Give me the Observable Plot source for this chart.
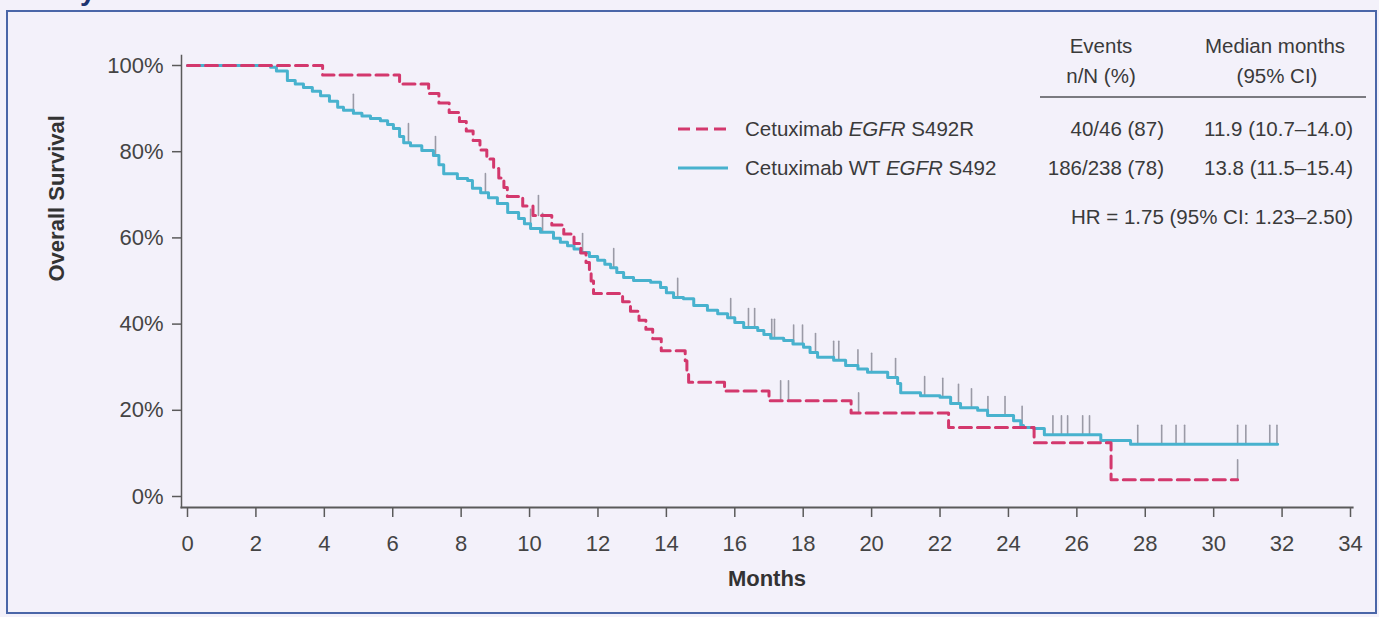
<!DOCTYPE html>
<html><head><meta charset="utf-8">
<script src="https://cdn.jsdelivr.net/npm/d3@7"></script>
<script src="https://cdn.jsdelivr.net/npm/@observablehq/plot@0.6"></script>
<style>
html,body{margin:0;padding:0;background:#f3f1fa;}
body{width:1379px;height:617px;overflow:hidden;position:relative;font-family:"Liberation Sans",Arial,sans-serif;color:#3a3a3a;}
#chart{position:absolute;left:0;top:0;}
#frame{position:absolute;left:6px;top:10px;width:1371px;height:604px;border:2px solid #4a66a8;box-sizing:border-box;pointer-events:none;}
#title{position:absolute;left:80px;top:-23px;font-size:28px;font-weight:bold;color:#1f3570;line-height:1;}
.t{position:absolute;font-size:20.5px;line-height:1;white-space:nowrap;}
.c{transform:translateX(-50%);}
.r{transform:translateX(-100%);}
</style></head><body>
<div id="title">y</div>
<div id="chart"></div>
<div id="legend"></div>
<div id="frame"></div>
<script>
// ---- data ----
const seriesNames = ["Cetuximab EGFR S492R", "Cetuximab WT EGFR S492"];
const xTicks = [0,2,4,6,8,10,12,14,16,18,20,22,24,26,28,30,32,34];
const yTicks = [0,20,40,60,80,100];

// Kaplan-Meier steps [month, survival %]
const mutSteps = [[0,100],[3.95,97.8],[6.2,95.7],[7.05,93.5],[7.35,91.3],[7.65,89.1],[7.95,87.0],[8.15,84.8],[8.35,82.6],[8.55,80.4],[8.75,78.3],[8.95,76.1],[9.1,73.9],[9.25,71.7],[9.35,69.6],[9.8,67.4],[10.1,65.2],[10.65,63.0],[11.0,60.9],[11.3,58.7],[11.5,56.5],[11.65,54.3],[11.75,52.2],[11.8,50.0],[11.87,47.1],[12.72,45.2],[12.95,43.0],[13.2,40.9],[13.4,38.8],[13.6,36.6],[13.85,33.8],[14.55,31.5],[14.6,29.0],[14.65,26.5],[15.7,24.5],[17.0,22.2],[19.4,19.4],[22.25,16.0],[24.75,12.5],[27.0,3.9],[30.7,3.9]];
const wtSteps = [[0,100],[2.43,99.6],[2.6,98.7],[2.92,96.5],[3.15,95.7],[3.39,94.9],[3.65,94.0],[3.89,93.0],[4.15,91.7],[4.39,90.3],[4.56,89.6],[4.85,88.9],[5.1,88.3],[5.35,87.7],[5.64,87.2],[5.85,86.3],[6.02,85.4],[6.2,83.5],[6.32,82.1],[6.52,81.4],[6.85,80.3],[7.19,79.1],[7.35,77.0],[7.49,74.9],[7.89,73.8],[8.19,73.3],[8.33,71.5],[8.57,70.5],[8.8,69.3],[9.06,68.0],[9.36,65.9],[9.68,64.5],[9.85,63.3],[10.03,62.2],[10.32,61.3],[10.7,59.9],[10.9,59.0],[11.11,58.2],[11.3,57.4],[11.49,56.6],[11.75,55.7],[11.99,54.8],[12.2,53.9],[12.37,53.1],[12.55,52.0],[12.75,50.8],[13.04,50.1],[13.54,49.7],[13.83,48.5],[14.0,47.3],[14.21,46.2],[14.5,45.9],[14.8,44.3],[15.2,43.2],[15.5,42.4],[15.79,41.5],[16.0,40.4],[16.26,39.2],[16.67,38.5],[16.85,37.6],[17.05,36.7],[17.43,36.2],[17.7,35.4],[18.01,34.6],[18.2,33.4],[18.42,32.3],[18.89,31.6],[19.24,30.4],[19.6,29.6],[19.88,28.8],[20.47,27.6],[20.76,26.2],[20.85,24.1],[21.43,23.4],[22.0,23.0],[22.31,21.6],[22.6,20.6],[23.1,20.0],[23.39,18.8],[24.15,17.6],[24.36,16.5],[24.44,16.0],[24.74,15.8],[25.05,14.3],[26.7,13.0],[27.57,12.1],[31.87,12.1]];

// censoring times (months)
const mutCensor = [10.26,17.34,17.57,19.62,30.7];
const wtCensor = [4.85,6.46,7.25,8.71,10.03,10.38,11.55,12.46,14.33,15.88,16.4,16.58,17.08,17.16,17.72,17.98,18.36,18.89,19.04,19.6,20.0,20.7,21.55,22.08,22.54,22.92,23.4,23.9,24.4,25.3,25.55,25.73,26.17,26.37,27.78,28.48,28.9,29.15,30.7,30.94,31.64,31.85];

// table
const tableHeader = [["Events","n/N (%)"],["Median months","(95% CI)"]];
const eventsCol = ["40/46 (87)","186/238 (78)"];
const medianCol = ["11.9 (10.7–14.0)","13.8 (11.5–15.4)"];
const hrText = "HR = 1.75 (95% CI: 1.23–2.50)";

// ---- build ----
const red = "#d3386d", blue = "#48b2ce", tickGrey = "#9a9aa6";
const toRows = steps => steps.map(([t,s]) => ({t, s}));
function survAt(steps, t){ let v = steps[0][1]; for (const [tt,s] of steps) { if (tt <= t) v = s; else break; } return v; }
const censorRows = steps => times => times.map(t => ({t, s: survAt(steps, t)}));
const tickShape = {draw(ctx, l){ ctx.moveTo(0,0); ctx.lineTo(0,-l); }};

const plot = Plot.plot({
  width: 1379, height: 617,
  marginLeft: 181, marginRight: 27, marginTop: 55, marginBottom: 110,
  style: {background: "transparent", fontFamily: '"Liberation Sans", Arial, sans-serif', fontSize: "22px", color: "#444", overflow: "visible"},
  x: {domain: [0,34], insetLeft: 6, insetRight: 2},
  y: {domain: [0,100], insetTop: 10, insetBottom: 11},
  marks: [
    Plot.frame({anchor: "left", stroke: "#5a5a5a", strokeWidth: 1.5}),
    Plot.frame({anchor: "bottom", stroke: "#5a5a5a", strokeWidth: 2.2}),
    Plot.axisY({ticks: yTicks, tickFormat: d => d + "%", tickSize: 9, tickPadding: 9, label: null, stroke: "#5a5a5a", strokeWidth: 1.5}),
    Plot.axisX({ticks: xTicks, tickFormat: d => String(d), tickSize: 10, tickPadding: 18, label: null, stroke: "#5a5a5a", strokeWidth: 1.5}),
    Plot.vector(censorRows(wtSteps)(wtCensor), {x: "t", y: "s", length: 19, anchor: "start", shape: tickShape, stroke: tickGrey, strokeWidth: 1.6}),
    Plot.vector(censorRows(mutSteps)(mutCensor), {x: "t", y: "s", length: 20, anchor: "start", shape: tickShape, stroke: tickGrey, strokeWidth: 1.6}),
    Plot.line(toRows(wtSteps), {x: "t", y: "s", curve: "step-after", stroke: blue, strokeWidth: 3}),
    Plot.line(toRows(mutSteps), {x: "t", y: "s", curve: "step-after", stroke: red, strokeWidth: 3, strokeDasharray: "12,6"}),
    Plot.text(["Overall Survival"], {frameAnchor: "left", dx: -125, rotate: -90, fontWeight: "bold", fontSize: 22, fill: "#333"}),
    Plot.text(["Months"], {frameAnchor: "bottom", dy: 78, fontWeight: "bold", fontSize: 22, fill: "#333"})
  ]
});
document.getElementById("chart").appendChild(plot);

// legend + table overlay
const L = document.getElementById("legend");
function add(html, cls, left, cy){ const d = document.createElement("div"); d.className = "t " + cls; d.innerHTML = html; d.style.left = left + "px"; d.style.top = (cy - 10) + "px"; L.appendChild(d); return d; }
add(tableHeader[0][0], "c", 1101, 46);
add(tableHeader[0][1], "c", 1101, 76);
add(tableHeader[1][0], "c", 1275, 46);
add(tableHeader[1][1], "c", 1277, 76);
const rule = document.createElement("div");
rule.style.cssText = "position:absolute;left:1040px;top:96px;width:326px;height:0;border-top:2px solid #7a7a80;";
L.appendChild(rule);
const rowsY = [129, 168];
const fmtName = n => n.replace("EGFR", "<i>EGFR</i>");
const swatch = (i) => {
  const s = document.createElementNS("http://www.w3.org/2000/svg", "svg");
  s.setAttribute("width", 52); s.setAttribute("height", 10);
  s.style.cssText = `position:absolute;left:677px;top:${rowsY[i]-5}px;`;
  const ln = document.createElementNS("http://www.w3.org/2000/svg", "line");
  ln.setAttribute("x1", 1); ln.setAttribute("x2", 51); ln.setAttribute("y1", 5); ln.setAttribute("y2", 5);
  ln.setAttribute("stroke", i === 0 ? red : blue); ln.setAttribute("stroke-width", 3);
  if (i === 0) ln.setAttribute("stroke-dasharray", "12,6");
  s.appendChild(ln); L.appendChild(s);
};
seriesNames.forEach((n, i) => {
  swatch(i);
  add(fmtName(n), "", 745, rowsY[i]);
  add(eventsCol[i], "r", 1164, rowsY[i]);
  add(medianCol[i], "r", 1353, rowsY[i]);
});
add(hrText, "r", 1353, 217);
</script>
</body></html>
